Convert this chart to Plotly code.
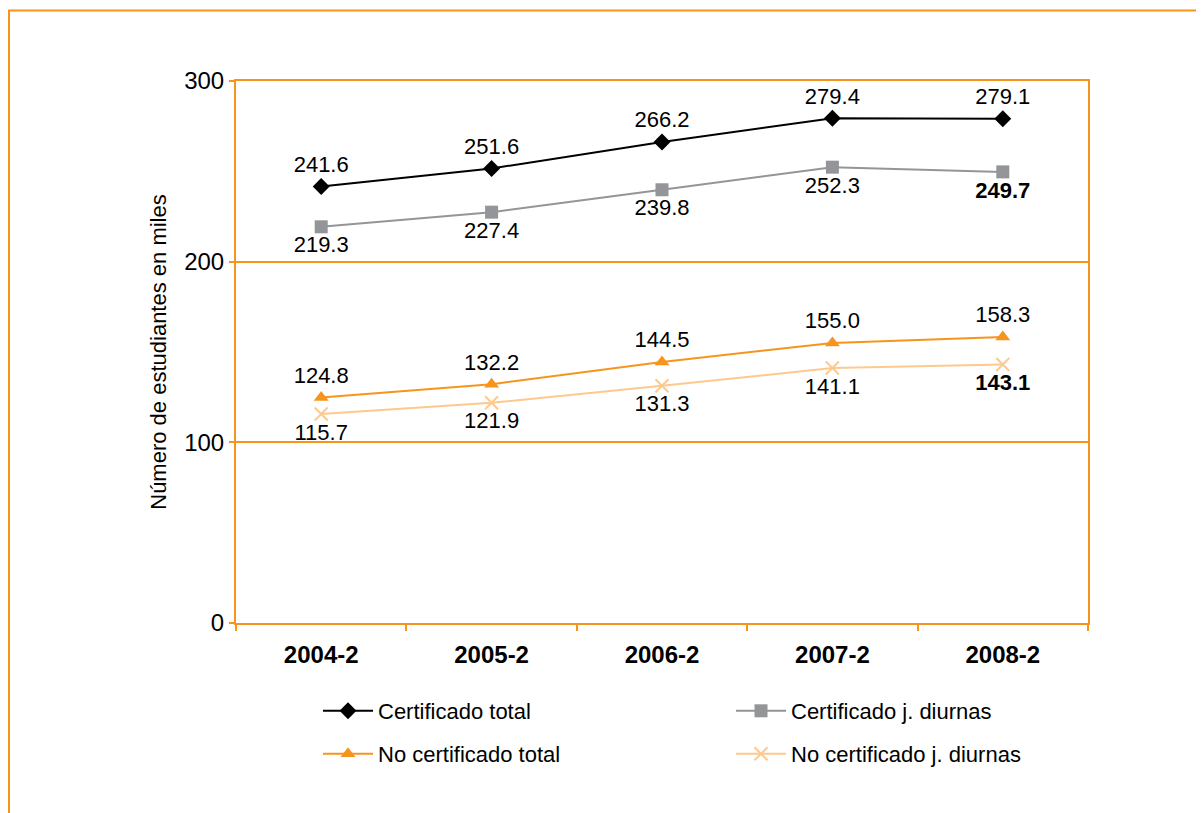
import plotly.graph_objects as go

categories = ["2004-2", "2005-2", "2006-2", "2007-2", "2008-2"]
cert_total = [241.6, 251.6, 266.2, 279.4, 279.1]
cert_diurnas = [219.3, 227.4, 239.8, 252.3, 249.7]
nocert_total = [124.8, 132.2, 144.5, 155.0, 158.3]
nocert_diurnas = [115.7, 121.9, 131.3, 141.1, 143.1]
y_ticks = [0, 100, 200, 300]

ORANGE = "#F7941D"
GREY = "#939598"
LIGHT = "#FDC98E"
FONT = "Liberation Sans, Arial, sans-serif"

# page offset (body margin) and figure size
OFF = 8
W, H = 1204 - OFF, 813 - OFF
# plot area in page pixels
L, R, T, B = 236 - OFF, 1088 - OFF, 81 - OFF, 623 - OFF

def px(x):  # page x -> paper
    return (x - OFF - L) / (R - L)
def py(y):  # page y -> paper
    return (B - (y - OFF)) / (B - T)

def labels(vals, bold_last=False):
    out = [f"{v:.1f}" for v in vals]
    if bold_last:
        out[-1] = f"<b>{out[-1]}</b>"
    return out

LBL = dict(size=22, color="black", family=FONT)

fig = go.Figure()
fig.add_trace(go.Scatter(
    x=categories, y=cert_total, name="Certificado total", mode="lines+markers+text",
    line=dict(color="black", width=2), marker=dict(symbol="diamond", size=13, color="black"),
    text=labels(cert_total), textposition="top center", textfont=LBL, legend="legend"))
fig.add_trace(go.Scatter(
    x=categories, y=cert_diurnas, name="Certificado j. diurnas", mode="lines+markers+text",
    line=dict(color=GREY, width=2), marker=dict(symbol="square", size=13, color=GREY),
    text=labels(cert_diurnas, True), textposition="bottom center", textfont=LBL, legend="legend2"))
fig.add_trace(go.Scatter(
    x=categories, y=nocert_total, name="No certificado total", mode="lines+markers+text",
    line=dict(color=ORANGE, width=2), marker=dict(symbol="triangle-up", size=13, color=ORANGE),
    text=labels(nocert_total), textposition="top center", textfont=LBL, legend="legend3"))
fig.add_trace(go.Scatter(
    x=categories, y=nocert_diurnas, name="No certificado j. diurnas", mode="lines+markers+text",
    line=dict(color=LIGHT, width=2),
    marker=dict(symbol="x-thin-open", size=13, color=LIGHT, line=dict(color=LIGHT, width=2)),
    text=labels(nocert_diurnas, True), textposition="bottom center", textfont=LBL, legend="legend4"))

def leg(xpage, ypage):
    return dict(orientation="h", xanchor="left", yanchor="middle",
                x=px(xpage), y=py(ypage),
                font=dict(size=22, color="black", family=FONT),
                bgcolor="rgba(0,0,0,0)", itemwidth=50)

fig.update_layout(
    width=W, height=H,
    margin=dict(l=L, r=W - R, t=T, b=H - B, autoexpand=False),
    paper_bgcolor="white", plot_bgcolor="white",
    font=dict(family=FONT, color="black"),
    showlegend=True,
    legend=leg(318, 711),
    legend2=leg(731, 711),
    legend3=leg(318, 754),
    legend4=leg(731, 754),
    xaxis=dict(
        type="category", range=[-0.5, 4.5], showgrid=False,
        showline=True, linecolor=ORANGE, linewidth=2, mirror=True,
        ticks="outside", tickson="boundaries", ticklen=6, tickcolor=ORANGE, tickwidth=2,
        tickfont=dict(size=24, family=FONT, color="black", weight="bold"),
        ticklabelstandoff=9,
    ),
    yaxis=dict(
        range=[0, 300], tickvals=y_ticks, showgrid=True, gridcolor=ORANGE, gridwidth=2,
        zeroline=False, showline=True, linecolor=ORANGE, linewidth=2, mirror=True,
        ticks="outside", ticklen=5, tickcolor=ORANGE, tickwidth=2,
        tickfont=dict(size=24, family=FONT, color="black"),
        title=dict(text="Número de estudiantes en miles", font=dict(size=22, family=FONT, color="black"),
                   standoff=11),
    ),
    shapes=[
        dict(type="line", xref="paper", yref="paper", x0=px(9), x1=px(9), y0=py(10), y1=py(813),
             line=dict(color=ORANGE, width=2)),
        dict(type="line", xref="paper", yref="paper", x0=px(8), x1=px(1204), y0=py(10.5), y1=py(10.5),
             line=dict(color=ORANGE, width=2)),
    ],
)

fig.write_html("out.html")
